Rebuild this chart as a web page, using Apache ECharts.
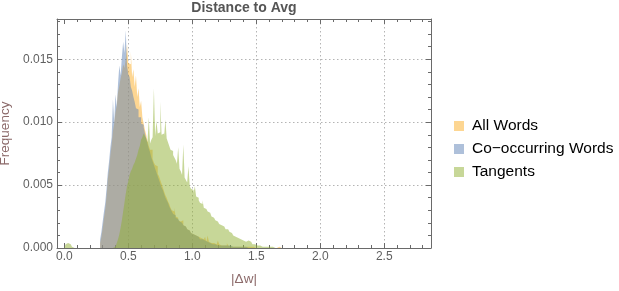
<!DOCTYPE html>
<html>
<head>
<meta charset="utf-8">
<script src="https://cdn.jsdelivr.net/npm/echarts@6/dist/echarts.min.js"></script>
<style>html,body{margin:0;padding:0;background:#fff;}#chart{width:619px;height:291px;}</style>
</head>
<body>
<div id="chart"></div>
<script>
// ---- data (bin width 0.01, values = frequency per bin) ----
const binWidth = 0.01;
const seriesNames = ['All Words', 'Co\u2212occurring Words', 'Tangents'];

const allWordsFrom = 0.28;
const allWords = [
  0.0001,0.0004,0.0009,0.0016,0.0024,0.0031,0.0041,0.0055,0.0063,0.0074,
  0.0082,0.0093,0.0099,0.0108,0.0113,0.0124,0.0129,0.0135,0.0139,0.0146,
  0.0143,0.0150,0.0162,0.0147,0.0146,0.0156,0.0136,0.0142,0.0128,0.0137,
  0.0120,0.0127,0.0112,0.0117,0.0104,0.0099,0.0094,0.0090,0.0085,0.0081,
  0.0078,0.0078,0.0071,0.0068,0.0066,0.0065,0.0059,0.0057,0.0054,0.0051,
  0.0048,0.0045,0.0042,0.0040,0.0037,0.0035,0.0032,0.0030,0.0029,0.0032,
  0.0025,0.0024,0.0022,0.0021,0.0020,0.0022,0.0018,0.0017,0.0016,0.0015,
  0.0014,0.0013,0.0012,0.0011,0.0011,0.0010,0.0009,0.0009,0.0008,0.0008,
  0.0007,0.0007,0.0006,0.0009,0.0005,0.0010,0.0005,0.0004,0.0004,0.0004,
  0.0003,0.0003,0.0003,0.0006,0.0003,0.0002,0.0002,0.0002,0.0002,0.0002,
  0.0004,0.0002,0.0001,0.0001,0.0001,0.0001,0.0001,0.0001,0.0001,0.0001,
  0.0001,0.0001,0.0001,0.0001,0.0001,0.0001,0.0001,0.0001,0.0001,0.0001,
  0.0001,0,0,0,0,0,0,0,0,0,
  0,0,0,0,0,0,0,0,0,0,
  0.0001,0
];

const coOccurringFrom = 0.28;
const coOccurring = [
  0.0002,0.0007,0.0013,0.0021,0.0029,0.0036,0.0047,0.0060,0.0069,0.0080,
  0.0088,0.0118,0.0100,0.0122,0.0112,0.0131,0.0145,0.0137,0.0152,0.0164,
  0.0155,0.0173,0.0145,0.0138,0.0136,0.0128,0.0125,0.0120,0.0116,0.0111,
  0.0110,0.0104,0.0104,0.0099,0.0098,0.0096,0.0091,0.0087,0.0083,0.0079,
  0.0076,0.0072,0.0069,0.0066,0.0063,0.0060,0.0057,0.0054,0.0051,0.0048,
  0.0046,0.0043,0.0040,0.0038,0.0036,0.0033,0.0031,0.0029,0.0027,0.0026,
  0.0024,0.0023,0.0022,0.0021,0.0020,0.0019,0.0018,0.0017,0.0016,0.0015,
  0.0014,0.0013,0.0012,0.0011,0.0010,0.0010,0.0009,0.0009,0.0008,0.0007,
  0.0007,0.0006,0.0006,0.0005,0.0005,0.0004,0.0004,0.0004,0.0003,0.0003,
  0.0003,0.0003,0.0002,0.0002,0.0002,0.0002,0.0002,0.0002,0.0002,0.0002,
  0.0002,0.0002,0.0002,0.0001,0.0001,0.0001,0.0001,0.0001,0.0001,0.0001,
  0.0001,0.0001,0.0001,0.0001,0.0001,0.0001,0
];

const tangentsFrom = 0.00;
const tangents = [
  0,0.0001,0.0003,0.0004,0.0004,0.0003,0.0002,0.0001,0,0,
  0,0,0,0,0,0,0,0,0,0,
  0,0,0,0,0,0,0,0,0,0,
  0,0,0,0,0,0,0,0,0,0,
  0.0001,0.0002,0.0004,0.0007,0.0011,0.0016,0.0022,0.0029,0.0036,0.0043,
  0.0049,0.0053,0.0058,0.0061,0.0063,0.0066,0.0068,0.0071,0.0074,0.0078,
  0.0081,0.0086,0.0088,0.0091,0.0089,0.0087,0.0084,0.0104,0.0083,0.0086,
  0.0088,0.0127,0.0089,0.0101,0.0091,0.0092,0.0116,0.0090,0.0091,0.0089,
  0.0102,0.0087,0.0084,0.0081,0.0078,0.0077,0.0074,0.0072,0.0070,0.0067,
  0.0080,0.0063,0.0061,0.0058,0.0082,0.0056,0.0054,0.0052,0.0065,0.0049,
  0.0047,0.0046,0.0044,0.0049,0.0041,0.0040,0.0038,0.0036,0.0035,0.0038,
  0.0032,0.0031,0.0030,0.0029,0.0028,0.0027,0.0025,0.0024,0.0023,0.0022,
  0.0021,0.0020,0.0019,0.0018,0.0018,0.0017,0.0016,0.0015,0.0015,0.0014,
  0.0013,0.0012,0.0011,0.0010,0.0009,0.0009,0.0008,0.0007,0.0007,0.0006,
  0.0006,0.0005,0.0005,0.0005,0.0006,0.0006,0.0005,0.0004,0.0003,0.0003,
  0.0002,0.0002,0.0002,0.0002,0.0001,0.0001,0.0001,0.0001,0.0001,0.0001,
  0.0001,0.0001,0.0001,0.0001,0.0001,0
];

// ---- axes ----
const xMin = -0.057, xMax = 2.865;
const yMin = 0, yMax = 0.0182;
const xTickLabels = [0, 0.5, 1.0, 1.5, 2.0, 2.5];
const xMinorTicks = [0,0.1,0.2,0.3,0.4,0.5,0.6,0.7,0.8,0.9,1.0,1.1,1.2,1.3,1.4,1.5,1.6,1.7,1.8,1.9,2.0,2.1,2.2,2.3,2.4,2.5,2.6,2.7,2.8];
const xGridValues = [0.5, 1.0, 1.5, 2.0, 2.5];
const yTickLabels = [0, 0.005, 0.010, 0.015];
const yMinorTicks = [0,0.001,0.002,0.003,0.004,0.005,0.006,0.007,0.008,0.009,0.010,0.011,0.012,0.013,0.014,0.015,0.016,0.017,0.018];
const yGridValues = [0.005, 0.010, 0.015];

const FONT = 'Liberation Sans, Arial, sans-serif';
const frameColor = '#6a6a6a';
const tickLabelColor = '#606060';
const axisNameColor = '#8c6a6a';
const gridLine = { color: '#b4b4b4', width: 1, type: [1.5, 2.5] };

const colors = ['rgba(251,173,37,0.5)', 'rgba(94,129,181,0.5)', 'rgba(143,176,50,0.5)'];

function toSteps(from, values) {
  const pts = values.map((v, i) => [+(from + i * binWidth).toFixed(4), v]);
  pts.push([+(from + values.length * binWidth).toFixed(4), 0]);
  return pts;
}

function axisSet(kind, pos, opts) {
  const isX = kind === 'x';
  return Object.assign({
    type: 'value',
    min: isX ? xMin : yMin,
    max: isX ? xMax : yMax,
    position: pos,
    axisLine: { show: false, onZero: false },
    axisTick: { show: false },
    axisLabel: { show: false },
    splitLine: { show: false },
    minorTick: { show: false },
    minorSplitLine: { show: false }
  }, opts);
}
const frameLine = { show: true, onZero: false, lineStyle: { color: frameColor, width: 1 } };
const majorTick = (vals) => ({ show: true, inside: true, length: 5, customValues: vals, lineStyle: { color: frameColor, width: 1 } });
const minorTick = (vals) => ({ show: true, inside: true, length: 3, customValues: vals, lineStyle: { color: frameColor, width: 1 } });

const chart = echarts.init(document.getElementById('chart'), null, { renderer: 'canvas' });
chart.setOption({
  animation: false,
  backgroundColor: '#ffffff',
  title: {
    text: 'Distance to Avg',
    left: 244, top: 1, textAlign: 'center', padding: 0,
    textStyle: { fontFamily: FONT, fontSize: 14, fontWeight: 'bold', color: '#555555' }
  },
  grid: { left: 57, right: 188, top: 19, bottom: 43, containLabel: false, outerBoundsMode: 'none' },
  legend: {
    orient: 'vertical', left: 449, top: 113,
    icon: 'rect', itemWidth: 10, itemHeight: 10, itemGap: 7,
    textStyle: { fontFamily: FONT, fontSize: 15.5, color: '#000000', padding: [0, 0, 0, 3] },
    data: seriesNames.map((n, i) => ({ name: n, itemStyle: { color: colors[i], borderWidth: 0 } }))
  },
  xAxis: [
    axisSet('x', 'bottom', {
      axisLine: frameLine,
      axisTick: majorTick(xTickLabels),
      axisLabel: { show: true, customValues: xTickLabels, formatter: v => v.toFixed(1), margin: 3,
        color: tickLabelColor, fontSize: 12, fontFamily: FONT },
      name: '|\u0394w|', nameLocation: 'middle', nameGap: 24,
      nameTextStyle: { fontFamily: FONT, fontSize: 13.5, color: axisNameColor }
    }),
    axisSet('x', 'bottom', { axisTick: minorTick(xMinorTicks) }),
    axisSet('x', 'top', { axisLine: frameLine, axisTick: majorTick(xTickLabels) }),
    axisSet('x', 'top', { axisTick: minorTick(xMinorTicks) }),
    axisSet('x', 'bottom', { axisTick: { show: false, customValues: xGridValues }, splitLine: { show: true, lineStyle: gridLine } })
  ],
  yAxis: [
    axisSet('y', 'left', {
      axisLine: frameLine,
      axisTick: majorTick(yTickLabels),
      axisLabel: { show: true, customValues: yTickLabels, formatter: v => v.toFixed(3), margin: 4,
        color: tickLabelColor, fontSize: 12, fontFamily: FONT },
      name: 'Frequency', nameLocation: 'middle', nameGap: 38, nameRotate: 90,
      nameTextStyle: { fontFamily: FONT, fontSize: 13.5, color: axisNameColor }
    }),
    axisSet('y', 'left', { axisTick: minorTick(yMinorTicks) }),
    axisSet('y', 'right', { axisLine: frameLine, axisTick: majorTick(yTickLabels) }),
    axisSet('y', 'right', { axisTick: minorTick(yMinorTicks) }),
    axisSet('y', 'left', { axisTick: { show: false, customValues: yGridValues }, splitLine: { show: true, lineStyle: gridLine } })
  ],
  series: [
    { from: allWordsFrom, vals: allWords },
    { from: coOccurringFrom, vals: coOccurring },
    { from: tangentsFrom, vals: tangents }
  ].map((s, i) => ({
    name: seriesNames[i],
    type: 'line',
    xAxisIndex: 0, yAxisIndex: 0,
    step: 'start',
    symbol: 'none',
    color: colors[i],
    lineStyle: { width: 0, opacity: 0 },
    areaStyle: { color: colors[i], opacity: 1 },
    data: toSteps(s.from, s.vals),
    z: 2 + i
  }))
});
</script>
</body>
</html>
